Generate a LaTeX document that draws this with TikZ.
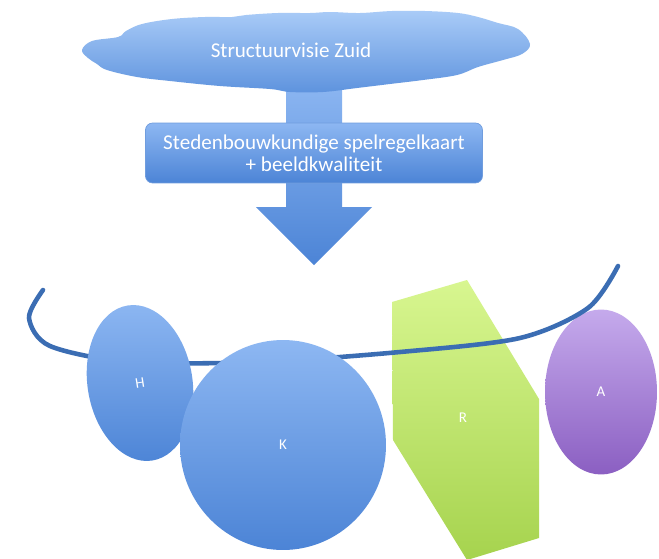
\documentclass[tikz,border=0pt]{standalone}
\usepackage{fontspec}
\setmainfont{Carlito}
\usetikzlibrary{shapes.geometric,calc}
\definecolor{SkyTop}{HTML}{A9CBF7}
\definecolor{SkyBot}{HTML}{5E93DE}
\definecolor{BlueTop}{HTML}{8DB7F2}
\definecolor{BlueBot}{HTML}{4C84D6}
\definecolor{Rope}{HTML}{3B6DB3}
\definecolor{LimeTop}{HTML}{D8F690}
\definecolor{LimeBot}{HTML}{A6D34E}
\definecolor{LilacTop}{HTML}{C5AAEC}
\definecolor{LilacBot}{HTML}{8B5FC2}

\begin{document}
\begin{tikzpicture}[x=0.02cm,y=-0.02cm,every node/.style={text=white,
  font=\fontsize{12}{12.5}\selectfont},
  bluefill/.style={top color=BlueTop,bottom color=BlueBot},
  blob/.style={ellipse,inner sep=0pt,font=\fontsize{8.5}{9}\selectfont}]
  \useasboundingbox[fill=white] (0,0) rectangle (659,558);
  \coordinate (foot) at (314,80);
  \coordinate (tip) at (314,265);
  \path[bluefill] ($(foot)+(-28,0)$) -- ($(foot)+(28,0)$)
    -- ($(tip)+(28,-58)$) -- ($(tip)+(58,-58)$) -- (tip)
    -- ($(tip)+(-58,-58)$) -- ($(tip)+(-28,-58)$) -- cycle;
  % cloud
  \path[top color=SkyTop,bottom color=SkyBot] plot[smooth cycle,tension=0.6]
    coordinates {(82,50) (92,41) (118,37) (126,31) (142,24) (172,19) (205,17)
    (232,17) (246,15) (278,13) (310,13) (330,12) (360,13) (392,11) (425,11)
    (458,13) (478,17) (498,23) (518,29) (530,44) (522,54) (503,60) (478,67)
    (457,75) (423,80) (390,84) (357,88) (323,92) (290,92) (270,89) (220,86)
    (170,81) (137,77) (107,70) (97,64) (88,58)};
  \node (vz) at (291,50) {Structuurvisie Zuid};
  \node[rectangle,rounded corners=4pt,bluefill,draw=BlueBot!80,align=center,
    minimum width=6.74cm,minimum height=1.2cm] (sk) at (314,153)
    {Stedenbouwkundige spelregelkaart\\+ beeldkwaliteit};
  % zones
  \path[top color=LimeTop,bottom color=LimeBot] (392,302) -- (467,280)
    -- (539,399) -- (539,538) -- (467,560) -- (393,440) -- cycle;
  \node[font=\fontsize{8.5}{9}\selectfont] (r) at (463,418) {R};
  \node[blob,top color=LilacTop,bottom color=LilacBot,minimum width=2.24cm,
    minimum height=3.3cm] (a) at (601,392) {A};
  \draw[Rope,line width=2.6pt,line cap=round] plot[smooth] coordinates
    {(43,290) (29,318) (50,346) (130,362) (260,362) (400,352) (520,338)
    (588,308) (618,266)};
  \node[blob,bluefill,rotate=9,minimum width=2.1cm,minimum height=3.14cm]
    (h) at (140,383) {H};
  \node[blob,bluefill,minimum width=4.12cm,minimum height=4.2cm]
    (k) at (283,445) {K};
\end{tikzpicture}
\end{document}
